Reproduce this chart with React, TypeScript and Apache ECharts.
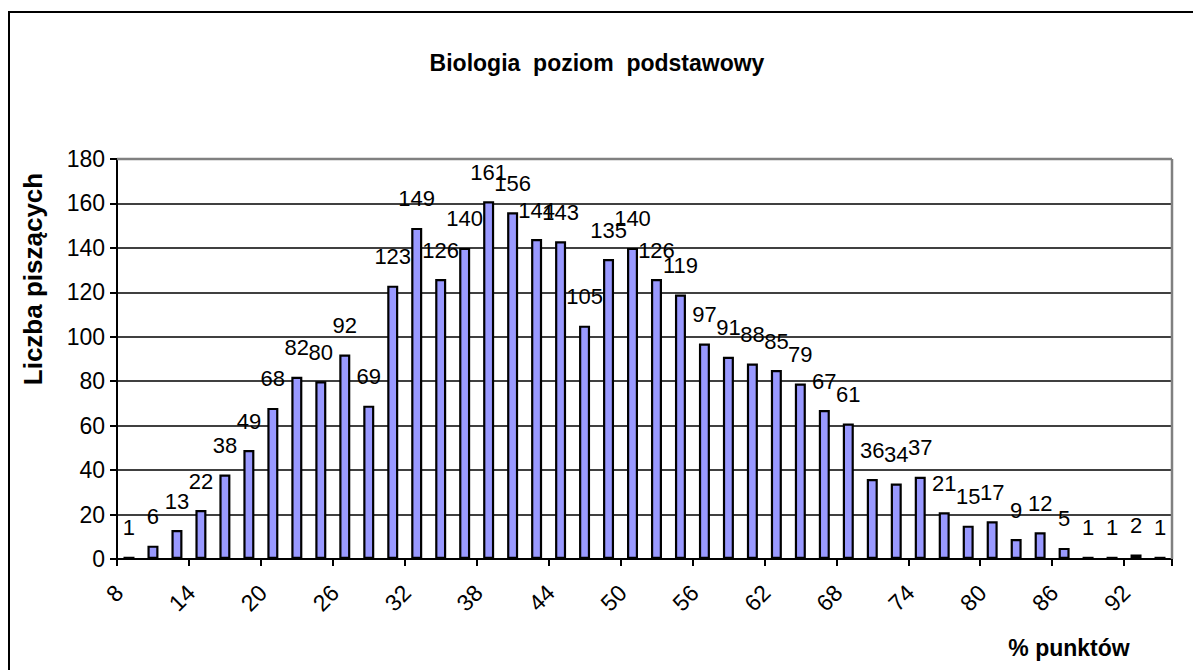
import React, { useEffect, useRef } from "react";
import * as echarts from "echarts";

const categories = [
  "8", "10", "12", "14", "16", "18", "20", "22", "24", "26", "28", "30", "32", "34", "36",
  "38", "40", "42", "44", "46", "48", "50", "52", "54", "56", "58", "60", "62", "64", "66",
  "68", "70", "72", "74", "76", "78", "80", "82", "84", "86", "88", "90", "92", "94",
];
const counts = [
  1, 6, 13, 22, 38, 49, 68, 82, 80, 92, 69, 123, 149, 126, 140,
  161, 156, 144, 143, 105, 135, 140, 126, 119, 97, 91, 88, 85, 79, 67,
  61, 36, 34, 37, 21, 15, 17, 9, 12, 5, 1, 1, 2, 1,
];
const titleText = "Biologia  poziom  podstawowy";
const yTitle = "Liczba piszących";
const xTitle = "% punktów";

const FONT = "'Liberation Sans', Arial, sans-serif";

export default function App() {
  const ref = useRef<HTMLDivElement>(null);
  useEffect(() => {
    document.body.style.margin = "0";
    const chart = echarts.init(ref.current!, null, { renderer: "svg" });
    const gridLeft = 117;
    const gridTop = 159;
    const gridRight = 1172;
    const gridBottom = 559;
    chart.setOption({
      animation: false,
      backgroundColor: "#ffffff",
      grid: {
        left: gridLeft,
        top: gridTop,
        right: 1193 - gridRight,
        bottom: 670 - gridBottom,
        containLabel: false,
      },
      xAxis: {
        type: "category",
        data: categories,
        boundaryGap: true,
        axisLine: { show: true, lineStyle: { color: "#000", width: 2 } },
        axisTick: { show: true, alignWithLabel: false, length: 7, lineStyle: { color: "#000", width: 2 } },
        axisLabel: {
          interval: 2,
          rotate: 45,
          margin: 20,
          fontSize: 23,
          color: "#000",
          fontFamily: FONT,
          padding: [0, 14, 0, 0],
        },
        splitLine: { show: false },
      },
      yAxis: {
        type: "value",
        min: 0,
        max: 180,
        interval: 20,
        axisLine: { show: true, lineStyle: { color: "#000", width: 2 } },
        axisTick: { show: true, length: 7, lineStyle: { color: "#000", width: 2 } },
        axisLabel: { margin: 12, fontSize: 23, color: "#000", fontFamily: FONT },
        splitLine: { show: true, lineStyle: { color: "#000", width: 1.5 } },
      },
      series: [
        {
          type: "bar",
          data: counts,
          barWidth: 11,
          itemStyle: { color: "#9999FF", borderColor: "#000", borderWidth: 2.2 },
          label: {
            show: true,
            position: "top",
            distance: 18,
            fontSize: 22,
            color: "#000",
            fontFamily: FONT,
          },
        },
      ],
      graphic: [
        {
          type: "rect",
          shape: { x: 9, y: 12, width: 1300, height: 800 },
          style: { fill: "none", stroke: "#000", lineWidth: 2 },
          silent: true,
        },
        {
          type: "line",
          shape: { x1: gridLeft, y1: gridTop, x2: gridRight, y2: gridTop },
          style: { stroke: "#808080", lineWidth: 2.5 },
          z: 100,
        },
        {
          type: "line",
          shape: { x1: gridRight, y1: gridTop, x2: gridRight, y2: gridBottom },
          style: { stroke: "#808080", lineWidth: 2.5 },
          z: 100,
        },
        {
          type: "text",
          x: 597,
          y: 63,
          style: {
            text: titleText,
            fontSize: 23,
            fontWeight: "bold",
            fontFamily: FONT,
            fill: "#000",
            textAlign: "center",
            textVerticalAlign: "middle",
          },
        },
        {
          type: "text",
          x: 33,
          y: 279,
          rotation: Math.PI / 2,
          style: {
            text: yTitle,
            fontSize: 26,
            fontWeight: "bold",
            fontFamily: FONT,
            fill: "#000",
            textAlign: "center",
            textVerticalAlign: "middle",
          },
        },
        {
          type: "text",
          x: 1069,
          y: 648,
          style: {
            text: xTitle,
            fontSize: 23,
            fontWeight: "bold",
            fontFamily: FONT,
            fill: "#000",
            textAlign: "center",
            textVerticalAlign: "middle",
          },
        },
      ],
    });
    return () => chart.dispose();
  }, []);
  return <div ref={ref} style={{ width: 1193, height: 670 }} />;
}
